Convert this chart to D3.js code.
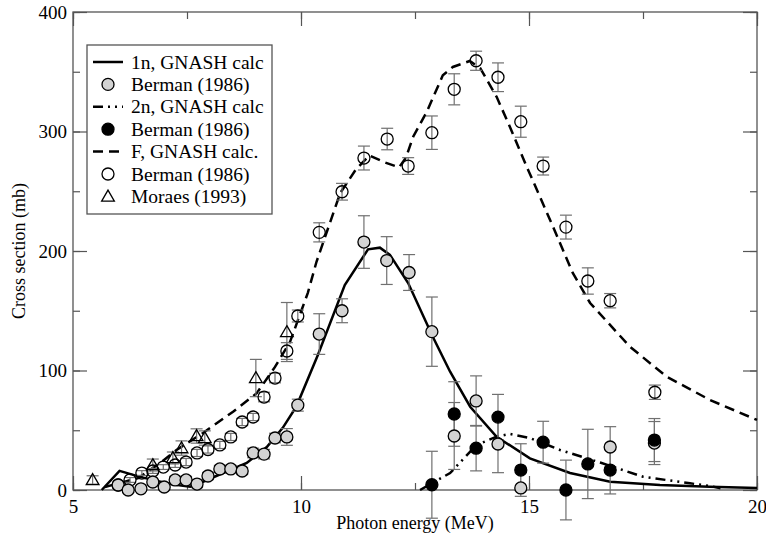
<html>
<head>
<style>
  body { margin: 0; background: #fff; }
  text { font-family: "Liberation Serif", "Times New Roman", serif; }
</style>
</head>
<body>
  <div id = 'chart'></div>
  <script src = 'https://d3js.org/d3.v7.min.js'></script>
  <script>
    // 1n, GNASH calc (solid)
    var calc1nE = [5.63, 6.02, 6.47, 7.13, 7.57, 7.85, 8.81, 9.25, 9.6, 9.9, 10.37, 10.96, 11.47, 11.73, 11.95, 12.35, 12.89, 13.27, 13.71, 14.29, 15.02, 15.9, 16.78, 17.87, 18.96, 20];
    var calc1nV = [0, 16, 11, 5, 2.8, 6.9, 22.6, 36, 52, 70, 113, 171.5, 201.4, 202.8, 196.7, 173.2, 128.3, 99, 69.7, 44.6, 26.5, 14.2, 6.9, 4.2, 2.8, 1.7];
    // 2n, GNASH calc (dash-dot-dot)
    var calc2nE = [12.61, 13.27, 13.85, 14.29, 14.58, 15.02, 15.68, 16.56, 17.5, 18.53, 18.97, 19.2];
    var calc2nV = [0, 14.2, 37.7, 44.6, 46.9, 43.5, 33.5, 23, 11.1, 5.6, 3.3, 1.5];
    // F, GNASH calc. (dashed)
    var calcFE = [5.7, 6.43, 6.91, 7.27, 7.85, 8.51, 9.03, 9.43, 9.76, 10.15, 10.34, 10.86, 11.2, 11.5, 11.85, 12.15, 12.3, 12.46, 12.76, 13.11, 13.33, 13.7, 13.93, 14.29, 14.58, 14.95, 15.24, 15.53, 15.96, 16.34, 17.21, 18.02, 18.97, 20];
    var calcFV = [2.5, 10, 22.6, 33.5, 47.7, 65.5, 81, 103, 124, 165, 191, 248.5, 268, 280, 274, 270, 278, 295.6, 316.6, 347, 354, 359, 353, 329, 304, 270.5, 245.4, 220, 181.6, 156.5, 120, 94.8, 75.3, 58.6];

    // Berman (1986) 1n (grey circles)
    var b1nE = [5.99, 6.21, 6.49, 6.75, 7.0, 7.24, 7.48, 7.72, 7.96, 8.22, 8.46, 8.71, 8.95, 9.19, 9.43, 9.69, 9.93, 10.4, 10.9, 11.38, 11.88, 12.37, 12.87, 13.36, 13.84, 14.32, 14.82, 16.78, 17.75];
    var b1nV = [4.2, 0, 1, 6.7, 2.5, 8.4, 8.4, 5, 11.7, 17.6, 17.6, 15.9, 31, 30, 43.5, 44.4, 71, 130.5, 150, 207.5, 192, 182, 132.5, 45.2, 74.5, 38.5, 1.7, 36, 39.3];
    var b1nErr = [2, 2, 2, 2, 2, 3, 3, 3, 3, 3, 3, 3, 4, 4, 4, 7, 5, 17, 10, 22, 20, 15, 29, 28, 21, 24, 0, 17, 18];
    // Berman (1986) 2n (black circles)
    var b2nE = [12.87, 13.36, 13.84, 14.32, 14.82, 15.31, 15.81, 16.29, 16.78, 17.75];
    var b2nV = [4.4, 63.6, 35, 61, 16.7, 40, 0, 21.8, 16.7, 41.8];
    var b2nErr = [28, 27, 19, 19, 22, 17.5, 25, 29, 20, 18];
    // Berman (1986) F (open circles)
    var bFE = [5.99, 6.25, 6.51, 6.75, 6.98, 7.24, 7.48, 7.72, 7.96, 8.22, 8.46, 8.71, 8.95, 9.19, 9.43, 9.69, 9.93, 10.4, 10.9, 11.38, 11.89, 12.35, 12.87, 13.36, 13.84, 14.32, 14.82, 15.31, 15.81, 16.29, 16.78, 17.76];
    var bFV = [4.2, 8.4, 14.2, 15.9, 19.2, 20.9, 23.4, 31, 33.9, 37.7, 44.4, 56.9, 61.1, 77.8, 93.7, 116.3, 145.6, 215.6, 249.6, 277.8, 293.7, 271.1, 299, 335.3, 359.2, 345.4, 308.2, 271.1, 220, 174.9, 158.4, 81.8];
    var bFErr = [2, 2, 2, 2, 2, 2, 3, 3, 3, 3, 3, 3, 3, 4, 4, 7, 5, 8, 7, 10, 9, 7, 14, 13, 8, 12, 13, 7.5, 10, 11, 6, 6];
    // Moraes (1993) (triangles)
    var morE = [5.43, 6.75, 7.19, 7.38, 7.71, 7.89, 9.01, 9.69];
    var morV = [8.4, 20.9, 26.8, 35.1, 45.2, 43.5, 93.7, 132.2];
    var morErr = [3.5, 5, 5, 6, 6, 6, 15.6, 24.7];

    var xTicks = [5, 10, 15, 20];
    var yTicks = [0, 100, 200, 300, 400];
    var legendLabels = ['1n, GNASH calc', 'Berman (1986)', '2n, GNASH calc', 'Berman (1986)', 'F, GNASH calc.', 'Berman (1986)', 'Moraes (1993)'];

    (function() {
    var width = 766, height = 538;
    var mLeft = 73, mRight = 757, mTop = 12, mBottom = 490;
    var frameCol = '#555', barCol = '#707070';
    var dashF = '10,6', dash2n = '10,5,2,5,2,5';

    var svg = d3.select('#chart').append('svg')
      .attr('width', width)
      .attr('height', height);

    var x = d3.scaleLinear().domain([5, 20]).range([mLeft, mRight]);
    var y = d3.scaleLinear().domain([0, 400]).range([mBottom, mTop]);

    function zip(xs, ys, es) {
      return xs.map(function(d, i) { return { x: d, y: ys[i], e: es ? es[i] : 0 }; });
    }

    // axes with inward ticks on all four sides
    function styleAxis(g) {
      g.select('.domain').remove();
      g.selectAll('line').attr('stroke', frameCol).attr('stroke-width', 1.2);
      g.selectAll('text').attr('font-size', 19).attr('fill', '#000')
        .style('font-family', '"Liberation Serif", serif');
    }
    var minorX = d3.range(5, 20.01, 2.5), minorY = d3.range(0, 400.1, 50);

    svg.append('g').attr('transform', 'translate(0,' + mBottom + ')')
      .call(d3.axisBottom(x).tickValues(minorX).tickSize(-7).tickFormat(''))
      .call(styleAxis);
    svg.append('g').attr('transform', 'translate(0,' + mBottom + ')')
      .call(d3.axisBottom(x).tickValues(xTicks).tickSize(-14).tickPadding(10).tickFormat(d3.format('d')))
      .call(styleAxis);
    svg.append('g').attr('transform', 'translate(0,' + mTop + ')')
      .call(d3.axisTop(x).tickValues(minorX).tickSize(-7).tickFormat(''))
      .call(styleAxis);
    svg.append('g').attr('transform', 'translate(0,' + mTop + ')')
      .call(d3.axisTop(x).tickValues(xTicks).tickSize(-14).tickFormat(''))
      .call(styleAxis);
    svg.append('g').attr('transform', 'translate(' + mLeft + ',0)')
      .call(d3.axisLeft(y).tickValues(minorY).tickSize(-7).tickFormat(''))
      .call(styleAxis);
    svg.append('g').attr('transform', 'translate(' + mLeft + ',0)')
      .call(d3.axisLeft(y).tickValues(yTicks).tickSize(-14).tickPadding(6).tickFormat(d3.format('d')))
      .call(styleAxis);
    svg.append('g').attr('transform', 'translate(' + mRight + ',0)')
      .call(d3.axisRight(y).tickValues(minorY).tickSize(-7).tickFormat(''))
      .call(styleAxis);
    svg.append('g').attr('transform', 'translate(' + mRight + ',0)')
      .call(d3.axisRight(y).tickValues(yTicks).tickSize(-14).tickFormat(''))
      .call(styleAxis);

    svg.append('rect')
      .attr('x', mLeft).attr('y', mTop)
      .attr('width', mRight - mLeft).attr('height', mBottom - mTop)
      .attr('fill', 'none').attr('stroke', frameCol).attr('stroke-width', 1.3);

    // axis titles
    svg.append('text')
      .attr('x', (mLeft + mRight) / 2).attr('y', 529)
      .attr('text-anchor', 'middle').attr('font-size', 18)
      .text('Photon energy (MeV)');
    svg.append('text')
      .attr('transform', 'translate(25,' + ((mTop + mBottom) / 2) + ') rotate(-90)')
      .attr('text-anchor', 'middle').attr('font-size', 18)
      .text('Cross section (mb)');

    var plot = svg.append('g');
    var line = d3.line().x(function(d) { return x(d.x); }).y(function(d) { return y(d.y); });

    plot.append('path').datum(zip(calcFE, calcFV))
      .attr('d', line).attr('fill', 'none').attr('stroke', '#000')
      .attr('stroke-width', 2.5).attr('stroke-dasharray', dashF);
    plot.append('path').datum(zip(calc1nE, calc1nV))
      .attr('d', line).attr('fill', 'none').attr('stroke', '#000')
      .attr('stroke-width', 2.5);
    plot.append('path').datum(zip(calc2nE, calc2nV))
      .attr('d', line).attr('fill', 'none').attr('stroke', '#000')
      .attr('stroke-width', 2.5).attr('stroke-dasharray', dash2n);

    function errorBars(data) {
      var g = plot.append('g').attr('stroke', barCol).attr('stroke-width', 1.2);
      data.filter(function(d) { return d.e > 0; }).forEach(function(d) {
        var cx = x(d.x), y0 = y(d.y - d.e), y1 = y(d.y + d.e);
        g.append('line').attr('x1', cx).attr('x2', cx).attr('y1', y0).attr('y2', y1);
        g.append('line').attr('x1', cx - 6).attr('x2', cx + 6).attr('y1', y0).attr('y2', y0);
        g.append('line').attr('x1', cx - 6).attr('x2', cx + 6).attr('y1', y1).attr('y2', y1);
      });
    }

    var dataF = zip(bFE, bFV, bFErr), data1n = zip(b1nE, b1nV, b1nErr),
        data2n = zip(b2nE, b2nV, b2nErr), dataM = zip(morE, morV, morErr);

    errorBars(dataM);
    errorBars(dataF);
    errorBars(data1n);
    errorBars(data2n);

    var tri = d3.symbol().type(d3.symbolTriangle).size(70);
    plot.selectAll('.tri').data(dataM).enter().append('path')
      .attr('transform', function(d) { return 'translate(' + x(d.x) + ',' + (y(d.y) + 1) + ')'; })
      .attr('d', tri).attr('fill', 'none').attr('stroke', '#000').attr('stroke-width', 1.3);

    function circles(data, fill) {
      plot.append('g').selectAll('circle').data(data).enter().append('circle')
        .attr('cx', function(d) { return x(d.x); })
        .attr('cy', function(d) { return y(d.y); })
        .attr('r', 6)
        .attr('fill', fill).attr('stroke', '#000').attr('stroke-width', 1.3);
    }
    circles(dataF, 'none');
    circles(data1n, '#d3d3d3');
    circles(data2n, '#000');

    // legend
    var lg = svg.append('g');
    lg.append('rect').attr('x', 87).attr('y', 45).attr('width', 185).attr('height', 169)
      .attr('fill', '#fff').attr('stroke', frameCol).attr('stroke-width', 1.3);
    var rowY = function(i) { return 62 + i * 22.4; };
    legendLabels.forEach(function(t, i) {
      lg.append('text').attr('x', 131).attr('y', rowY(i) + 6.5)
        .attr('font-size', 19.5).text(t);
    });
    [[0, null], [2, dash2n], [4, dashF]].forEach(function(s) {
      lg.append('line').attr('x1', 93).attr('x2', 123)
        .attr('y1', rowY(s[0])).attr('y2', rowY(s[0]))
        .attr('stroke', '#000').attr('stroke-width', 2.5)
        .attr('stroke-dasharray', s[1]);
    });
    [[1, '#d3d3d3'], [3, '#000'], [5, '#fff']].forEach(function(s) {
      lg.append('circle').attr('cx', 108).attr('cy', rowY(s[0])).attr('r', 6)
        .attr('fill', s[1]).attr('stroke', '#000').attr('stroke-width', 1.3);
    });
    lg.append('path').attr('transform', 'translate(108,' + (rowY(6) + 1) + ')')
      .attr('d', tri).attr('fill', 'none').attr('stroke', '#000').attr('stroke-width', 1.3);
    })();
  </script>
</body>
</html>
